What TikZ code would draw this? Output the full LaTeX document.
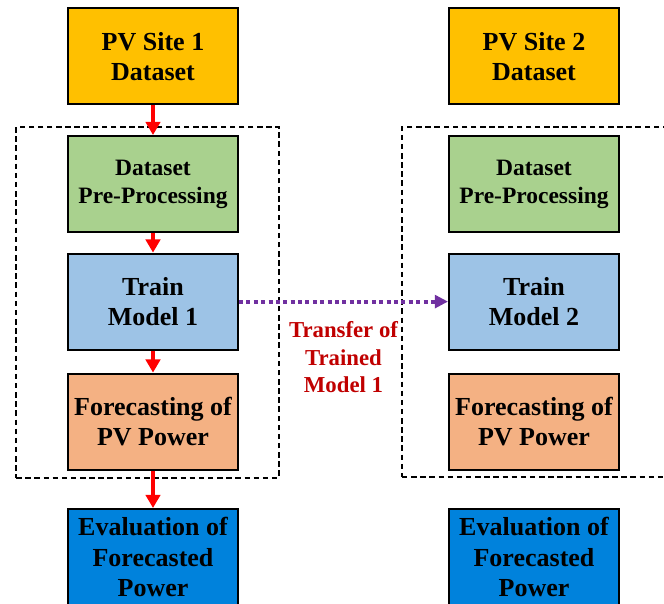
\documentclass[tikz,border=0pt]{standalone}
\usepackage{fontspec}
\setmainfont{Liberation Serif}
\usetikzlibrary{arrows.meta,positioning}

\definecolor{siteorange}{HTML}{FFC000}
\definecolor{prepgreen}{HTML}{A9D18E}
\definecolor{trainblue}{HTML}{9DC3E6}
\definecolor{fcstorange}{HTML}{F4B183}
\definecolor{evalblue}{HTML}{0082DC}
\definecolor{xferpurple}{HTML}{7030A0}
\definecolor{labred}{HTML}{C00000}

\begin{document}
\begin{tikzpicture}[
    box/.style={
        draw,
        line width=1.4pt,
        minimum width=4.25cm,
        minimum height=2.4cm,
        inner sep=0pt,
        align=center,
        font=\bfseries\fontsize{18.5}{21.5}\selectfont
    },
    site/.style={box, fill=siteorange},
    prep/.style={box, fill=prepgreen,
        font=\bfseries\fontsize{16.7}{19.9}\selectfont},
    train/.style={box, fill=trainblue},
    fcst/.style={box, fill=fcstorange},
    evalbox/.style={box, fill=evalblue},
    group/.style={
        draw,
        line width=1.6pt,
        dash pattern=on 3.9pt off 2.6pt
    },
    flow/.style={-{Triangle[length=0.33cm,width=0.36cm]}, red, line width=3.5pt},
    xfer/.style={
        -{Triangle[length=0.33cm,width=0.32cm]},
        xferpurple,
        line width=2.85pt,
        dash pattern=on 2.85pt off 2.4pt
    },
    xferlab/.style={
        text=labred,
        inner sep=0pt,
        align=center,
        font=\bfseries\fontsize{16.2}{19.5}\selectfont
    }
]
\useasboundingbox (0,0) rectangle (16.6,15.1);
\clip (0,0) rectangle (16.6,15.1);

%------------------------------------------------
% Dashed groups (training pipeline per site)
%------------------------------------------------
\node[group, minimum width=6.575cm, minimum height=8.775cm] (grp1) at (3.69,7.54) {};
\node[group, minimum width=6.95cm,  minimum height=8.75cm]  (grp2) at (13.525,7.55) {};

%------------------------------------------------
% Site 1
%------------------------------------------------
\node[site]    (site1)  at (3.825,13.69) {PV Site 1\\Dataset};
\node[prep]    (prep1)  at (3.825,10.5)  {Dataset\\Pre-Processing};
\node[train]   (train1) at (3.825,7.56)  {Train\\Model 1};
\node[fcst]    (fcst1)  at (3.825,4.56)  {Forecasting of\\PV Power};
\node[evalbox] (eval1)  at (3.825,1.175) {Evaluation of\\Forecasted\\Power};

%------------------------------------------------
% Site 2
%------------------------------------------------
\node[site]    (site2)  at (13.35,13.69) {PV Site 2\\Dataset};
\node[prep]    (prep2)  at (13.35,10.5)  {Dataset\\Pre-Processing};
\node[train]   (train2) at (13.35,7.56)  {Train\\Model 2};
\node[fcst]    (fcst2)  at (13.35,4.56)  {Forecasting of\\PV Power};
\node[evalbox] (eval2)  at (13.35,1.175) {Evaluation of\\Forecasted\\Power};

%------------------------------------------------
% Arrows
%------------------------------------------------
\draw[flow] (site1) -- (prep1);
\draw[flow] (prep1) -- (train1);
\draw[flow] (train1) -- (fcst1);
\draw[flow] (fcst1) -- (eval1);

\draw[xfer] (train1) -- (train2)
    node[midway, below=0.45cm, xferlab] {Transfer of\\Trained\\Model 1};

\end{tikzpicture}
\end{document}
